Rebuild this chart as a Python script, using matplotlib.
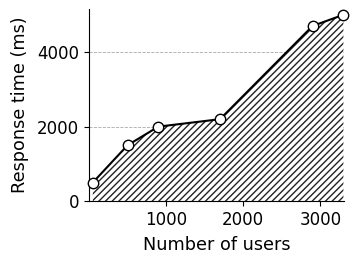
import matplotlib
matplotlib.use("Agg")
import matplotlib.pyplot as plt

users = [50, 500, 900, 1700, 2900, 3300]
response_ms = [500, 1500, 2000, 2200, 4700, 5000]
yticks = [0, 2000, 4000]
xticks = [1000, 2000, 3000]

plt.rcParams['hatch.linewidth'] = 1.0
fig = plt.figure(figsize=(3.53, 2.63), dpi=100)
ax = fig.add_axes([0.252, 0.235, 0.723, 0.73])
ax.fill_between(users, response_ms, 0, facecolor='white', edgecolor='#222222', hatch='/////', linewidth=0)
ax.plot(users, response_ms, color='black', lw=1.5, marker='o', markersize=7.5,
        markerfacecolor='white', markeredgecolor='black', markeredgewidth=1, zorder=3, clip_on=False)
ax.set_xlim(0, 3310)
ax.set_ylim(0, 5150)
ax.set_yticks(yticks)
ax.set_xticks(xticks)
ax.yaxis.grid(True, linestyle='--', color='#aaaaaa', lw=0.6)
ax.set_axisbelow(True)
for s in ['top', 'right']:
    ax.spines[s].set_visible(False)
ax.tick_params(labelsize=12)
ax.set_xlabel('Number of users', fontsize=12.7, labelpad=5)
ax.set_ylabel('Response time (ms)', fontsize=12.7, labelpad=6)
fig.savefig('out.png', dpi=100)
